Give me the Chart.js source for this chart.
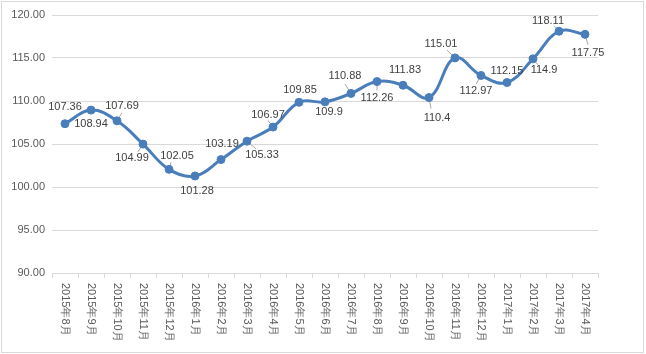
<!DOCTYPE html>
<html>
<head>
<meta charset="utf-8">
<script src="https://cdn.jsdelivr.net/npm/chart.js@4/dist/chart.umd.min.js"></script>
<style>
  html, body { margin: 0; padding: 0; background: #fff; }
  #wrap { position: relative; width: 646px; height: 354px; }
  #frame { position: absolute; left: 1px; top: 1px; width: 641px; height: 350px; border: 1px solid #d9d9d9; pointer-events: none; }
</style>
</head>
<body>
<div id="wrap">
  <canvas id="myChart" width="646" height="354"></canvas>
  <div id="frame"></div>
</div>
<script>
'use strict';

let months = [
  '2015年8月', '2015年9月', '2015年10月', '2015年11月', '2015年12月',
  '2016年1月', '2016年2月', '2016年3月', '2016年4月', '2016年5月', '2016年6月',
  '2016年7月', '2016年8月', '2016年9月', '2016年10月', '2016年11月', '2016年12月',
  '2017年1月', '2017年2月', '2017年3月', '2017年4月'
];

let values = [
  107.36, 108.94, 107.69, 104.99, 102.05,
  101.28, 103.19, 105.33, 106.97, 109.85, 109.9,
  110.88, 112.26, 111.83, 110.4, 115.01, 112.97,
  112.15, 114.9, 118.11, 117.75
];

let valueText = [
  '107.36', '108.94', '107.69', '104.99', '102.05',
  '101.28', '103.19', '105.33', '106.97', '109.85', '109.9',
  '110.88', '112.26', '111.83', '110.4', '115.01', '112.97',
  '112.15', '114.9', '118.11', '117.75'
];

let yMin = 90;
let yMax = 120;
let yStep = 5;

// label offset from its point, px (dx, dy)
let labelShift = [
  [0, -17], [0, 14], [5, -15], [-11, 14], [8, -13],
  [2, 15], [1, -16], [15, 14], [-5, -12], [1, -12], [4, 10],
  [-6, -17], [0, 16], [2, -15], [8, 20], [-14, -14], [-5, 16],
  [0, -12], [11, 11], [-11, -10], [3, 19]
];

// which labels get a little grey leader line (excel style)
let leaders = [2, 3, 4, 7, 8, 11, 12, 14, 15, 16, 18, 19, 20];

let lineColor = '#4a7ebb';
let textColor = '#404040';
let axisColor = '#595959';
let gridColor = '#d9d9d9';
let font = '"Liberation Sans", Arial, sans-serif';

let pointLabels = {
  id: 'pointLabels',
  beforeDatasetsDraw(chart) {
    let ctx = chart.ctx;
    let pts = chart.getDatasetMeta(0).data;
    ctx.save();
    ctx.strokeStyle = '#a6a6a6';
    ctx.lineWidth = 1;
    for (let k = 0; k < leaders.length; k++) {
      let i = leaders[k];
      let dx = labelShift[i][0];
      let dy = labelShift[i][1];
      ctx.beginPath();
      ctx.moveTo(pts[i].x, pts[i].y);
      ctx.lineTo(pts[i].x + dx * 1.0 + (dx > 0 ? -6 : 6) * (Math.abs(dx) > 6 ? 1 : 0), pts[i].y + dy * 0.55);
      ctx.stroke();
    }
    ctx.restore();
  },
  afterDatasetsDraw(chart) {
    let ctx = chart.ctx;
    let pts = chart.getDatasetMeta(0).data;
    ctx.save();
    ctx.font = '11px ' + font;
    ctx.fillStyle = textColor;
    ctx.textAlign = 'center';
    ctx.textBaseline = 'middle';
    for (let i = 0; i < pts.length; i++) {
      ctx.fillText(valueText[i], pts[i].x + labelShift[i][0], pts[i].y + labelShift[i][1]);
    }
    ctx.restore();
  }
};

// x labels turned clockwise, like the original
let sideLabels = {
  id: 'sideLabels',
  afterDraw(chart) {
    let ctx = chart.ctx;
    let xs = chart.scales.x;
    ctx.save();
    ctx.font = '11px ' + font;
    ctx.fillStyle = axisColor;
    ctx.textAlign = 'left';
    ctx.textBaseline = 'middle';
    for (let i = 0; i < months.length; i++) {
      ctx.save();
      ctx.translate(xs.getPixelForValue(i), xs.top + 10);
      ctx.rotate(Math.PI / 2);
      ctx.fillText(months[i], 0, 0);
      ctx.restore();
    }
    ctx.restore();
  }
};

let ctx = document.getElementById('myChart').getContext('2d');
let myChart = new Chart(ctx, {
  type: 'line',
  data: {
    labels: months,
    datasets: [{
      data: values,
      borderColor: lineColor,
      backgroundColor: lineColor,
      borderWidth: 3,
      tension: 0.4,
      pointRadius: 4,
      pointBackgroundColor: lineColor,
      pointBorderColor: lineColor,
      pointBorderWidth: 1,
      fill: false
    }]
  },
  options: {
    responsive: false,
    animation: false,
    devicePixelRatio: 1,
    layout: { padding: { top: 15, right: 48, left: 0, bottom: 0 } },
    plugins: {
      legend: { display: false },
      tooltip: { enabled: false }
    },
    scales: {
      x: {
        offset: true,
        grid: { offset: true, drawOnChartArea: false, drawTicks: true, tickLength: 5, color: gridColor },
        border: { color: gridColor },
        ticks: { display: false },
        afterFit(scale) { scale.height = 81; }
      },
      y: {
        min: yMin,
        max: yMax,
        ticks: {
          stepSize: yStep,
          color: axisColor,
          padding: 7,
          font: { size: 11, family: font },
          callback: (v) => v.toFixed(2)
        },
        grid: { color: gridColor, drawTicks: false },
        border: { display: false },
        afterFit(scale) { scale.width = 52; }
      }
    }
  },
  plugins: [pointLabels, sideLabels]
});
</script>
</body>
</html>
